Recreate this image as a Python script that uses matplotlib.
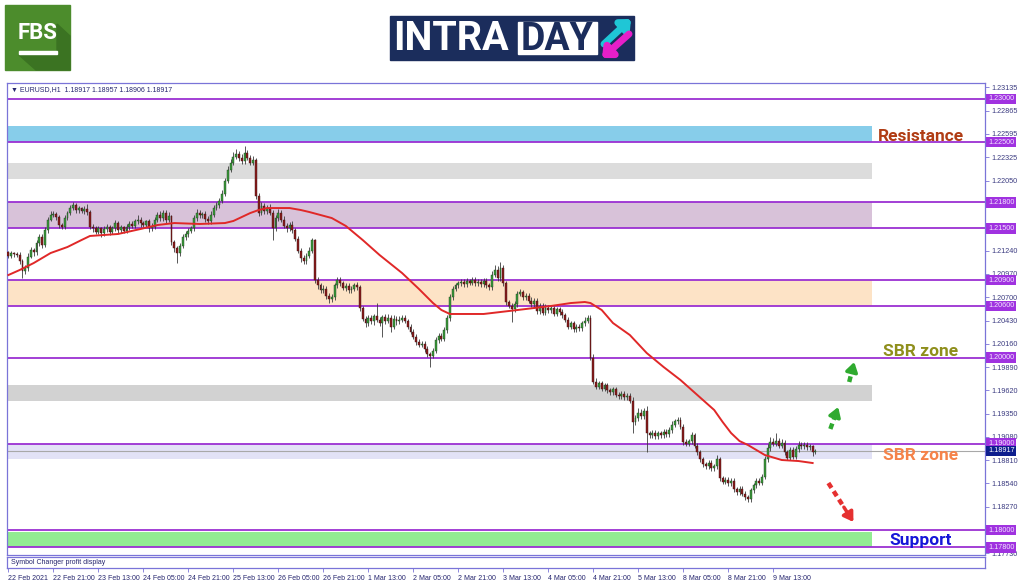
import numpy as np
import matplotlib
matplotlib.use("Agg")
import matplotlib.pyplot as plt
from matplotlib.patches import Rectangle, Polygon

# EURUSD H1 closes, one row per 16 bars (one x tick)
closes = [
    1.2118, 1.2121, 1.2120, 1.2119, 1.2112, 1.2100, 1.2104, 1.2117, 1.2125, 1.2122, 1.2133, 1.2140, 1.2131, 1.2148, 1.2160, 1.2166,
    1.2167, 1.2163, 1.2154, 1.2152, 1.2162, 1.2168, 1.2174, 1.2177, 1.2171, 1.2173, 1.2170, 1.2172, 1.2169, 1.2152, 1.2150, 1.2146,
    1.2150, 1.2144, 1.2149, 1.2152, 1.2146, 1.2150, 1.2156, 1.2148, 1.2151, 1.2147, 1.2152, 1.2155, 1.2153, 1.2158, 1.2160, 1.2156,
    1.2154, 1.2158, 1.2150, 1.2152, 1.2160, 1.2166, 1.2162, 1.2168, 1.2160, 1.2164, 1.2134, 1.2127, 1.2121, 1.2130, 1.2140, 1.2143,
    1.2147, 1.2150, 1.2162, 1.2168, 1.2165, 1.2167, 1.2161, 1.2158, 1.2166, 1.2174, 1.2177, 1.2182, 1.2190, 1.2205, 1.2218, 1.2226,
    1.2233, 1.2236, 1.2231, 1.2228, 1.2237, 1.2232, 1.2226, 1.2229, 1.2188, 1.2168, 1.2176, 1.2170, 1.2173, 1.2168, 1.2150, 1.2162, 1.2168,
    1.2160, 1.2153, 1.2150, 1.2154, 1.2148, 1.2138, 1.2124, 1.2115, 1.2112, 1.2118, 1.2124, 1.2136, 1.2090, 1.2084, 1.2078, 1.2080,
    1.2072, 1.2068, 1.2070, 1.2084, 1.2090, 1.2086, 1.2081, 1.2083, 1.2078, 1.2080, 1.2084, 1.2082, 1.2058, 1.2045, 1.2040, 1.2046,
    1.2042, 1.2048, 1.2044, 1.2040, 1.2047, 1.2043, 1.2046, 1.2036, 1.2045, 1.2042, 1.2044, 1.2046, 1.2043, 1.2036, 1.2030, 1.2024,
    1.2018, 1.2015, 1.2016, 1.2010, 1.2004, 1.2002, 1.2008, 1.2020, 1.2025, 1.2022, 1.2032, 1.2046, 1.2070, 1.2080, 1.2084, 1.2086,
    1.2088, 1.2085, 1.2089, 1.2087, 1.2090, 1.2086, 1.2088, 1.2085, 1.2089, 1.2084, 1.2082, 1.2096, 1.2102, 1.2092, 1.2104, 1.2086,
    1.2064, 1.2060, 1.2056, 1.2062, 1.2074, 1.2076, 1.2070, 1.2072, 1.2066, 1.2062, 1.2066, 1.2054, 1.2060, 1.2052, 1.2058, 1.2055,
    1.2057, 1.2051, 1.2056, 1.2053, 1.2049, 1.2044, 1.2036, 1.2040, 1.2033, 1.2036, 1.2034, 1.2040, 1.2043, 1.2046, 1.2000, 1.1972,
    1.1966, 1.1970, 1.1964, 1.1968, 1.1962, 1.1960, 1.1963, 1.1957, 1.1955, 1.1958, 1.1954, 1.1956, 1.1950, 1.1925, 1.1930, 1.1936,
    1.1932, 1.1938, 1.1912, 1.1910, 1.1913, 1.1909, 1.1912, 1.1910, 1.1914, 1.1911, 1.1916, 1.1922, 1.1926, 1.1928, 1.1920, 1.1902,
    1.1900, 1.1903, 1.1910, 1.1898, 1.1890, 1.1882, 1.1876, 1.1874, 1.1878, 1.1872, 1.1874, 1.1882, 1.1860, 1.1856, 1.1858, 1.1854,
    1.1857, 1.1847, 1.1844, 1.1848, 1.1842, 1.1838, 1.1836, 1.1846, 1.1852, 1.1857, 1.1855, 1.1862, 1.1882, 1.1895, 1.1902, 1.1900,
    1.1903, 1.1898, 1.1901, 1.1890, 1.1884, 1.1893, 1.1885, 1.1894, 1.1899, 1.1897, 1.1899, 1.1896, 1.1897, 1.1890, 1.18917,
]
first_open = 1.2122

# wick lengths beyond the body, in pips
upper_wick = [
    2, 3, 2, 2, 3, 2, 3, 4, 3, 2, 4, 3, 3, 4, 3, 4,
    3, 2, 3, 2, 3, 2, 3, 4, 2, 3, 2, 4, 6, 2, 3, 3,
    3, 2, 4, 3, 2, 3, 4, 2, 3, 2, 3, 3, 4, 3, 5, 3,
    3, 2, 3, 4, 3, 3, 4, 3, 3, 5, 2, 2, 2, 3, 3, 4,
    3, 3, 3, 4, 3, 2, 3, 3, 4, 3, 3, 3, 4, 3, 4, 4,
    5, 6, 4, 5, 8, 4, 3, 5, 2, 3, 4, 3, 4, 5, 3, 3, 4,
    3, 4, 3, 3, 4, 2, 3, 3, 4, 3, 4, 3, 2, 3, 3, 4,
    3, 3, 4, 3, 4, 3, 3, 3, 4, 3, 3, 4, 2, 2, 3, 4,
    4, 3, 15, 3, 3, 4, 5, 3, 5, 3, 4, 3, 3, 2, 3, 3,
    3, 3, 3, 3, 3, 2, 3, 4, 3, 4, 3, 3, 4, 3, 3, 3,
    3, 3, 3, 2, 3, 3, 3, 3, 3, 3, 3, 5, 6, 4, 7, 3,
    3, 3, 3, 4, 3, 4, 3, 3, 3, 4, 3, 3, 3, 3, 4, 3,
    3, 3, 3, 3, 3, 3, 3, 3, 3, 3, 3, 3, 4, 4, 3, 4,
    4, 3, 3, 3, 3, 3, 3, 3, 3, 3, 3, 3, 3, 4, 3, 6,
    4, 4, 6, 3, 3, 3, 3, 3, 3, 3, 3, 4, 3, 3, 3, 3,
    3, 3, 4, 3, 3, 3, 3, 3, 3, 3, 3, 5, 3, 3, 3, 3,
    3, 3, 3, 3, 3, 3, 3, 3, 3, 3, 3, 3, 4, 5, 6, 5,
    10, 4, 5, 3, 3, 3, 3, 3, 4, 3, 3, 3, 3, 2, 2,
]
lower_wick = [
    3, 2, 3, 2, 3, 8, 3, 3, 2, 4, 3, 3, 4, 3, 3, 2,
    3, 3, 4, 3, 3, 2, 3, 3, 3, 3, 2, 3, 3, 3, 4, 3,
    3, 4, 3, 3, 4, 3, 3, 4, 3, 3, 3, 4, 3, 3, 3, 4,
    3, 3, 4, 3, 3, 3, 3, 3, 4, 3, 3, 4, 11, 3, 3, 3,
    3, 3, 3, 3, 3, 3, 4, 3, 3, 3, 3, 3, 3, 3, 3, 3,
    3, 3, 3, 3, 3, 3, 3, 3, 4, 4, 3, 3, 3, 3, 14, 3, 3,
    3, 3, 4, 3, 3, 3, 3, 4, 3, 3, 3, 3, 3, 4, 3, 3,
    4, 5, 3, 3, 3, 3, 3, 4, 3, 3, 3, 3, 4, 3, 4, 3,
    3, 4, 3, 3, 16, 4, 3, 6, 3, 4, 3, 3, 3, 3, 3, 3,
    3, 3, 3, 3, 3, 13, 3, 3, 3, 3, 3, 3, 3, 3, 3, 3,
    3, 3, 3, 3, 3, 3, 3, 3, 3, 3, 3, 3, 3, 3, 3, 3,
    3, 3, 15, 3, 3, 3, 3, 3, 3, 3, 4, 3, 3, 3, 3, 3,
    3, 3, 3, 3, 3, 3, 3, 3, 3, 3, 3, 3, 3, 3, 3, 3,
    3, 3, 3, 3, 3, 3, 3, 3, 3, 3, 3, 3, 3, 12, 3, 3,
    3, 3, 22, 3, 3, 3, 3, 3, 3, 3, 3, 3, 3, 3, 3, 3,
    3, 3, 3, 3, 3, 3, 3, 3, 3, 3, 3, 3, 3, 3, 3, 3,
    3, 3, 3, 3, 3, 3, 3, 3, 3, 3, 3, 3, 3, 3, 3, 3,
    3, 3, 3, 3, 3, 3, 3, 3, 3, 3, 3, 3, 3, 4, 2,
]

# red moving average, read at a few bars
ma_bars = [0, 4, 9, 15, 21, 26, 29, 39, 47, 53, 59, 68, 77, 80, 83, 86, 89, 92, 96, 100,
           104, 107, 111, 115, 120, 126, 132, 140, 146, 151, 154, 157, 169, 181, 193, 200,
           205, 207, 211, 215, 221, 227, 233, 239, 245, 251, 254, 257, 260, 263, 269, 275,
           281, 286]
ma_values = [1.20958, 1.21016, 1.21097, 1.21213, 1.21283, 1.21364, 1.21411, 1.21434, 1.21492,
             1.21538, 1.21561, 1.21550, 1.21561, 1.21585, 1.21631, 1.21677, 1.21712, 1.21735,
             1.21735, 1.21735, 1.21712, 1.21689, 1.21654, 1.21619, 1.21527, 1.21364, 1.21190,
             1.20981, 1.20796, 1.20633, 1.20552, 1.20506, 1.20506, 1.20552, 1.20599, 1.20633,
             1.20645, 1.20633, 1.20552, 1.20401, 1.20262, 1.20053, 1.19891, 1.19740, 1.19566,
             1.19392, 1.19253, 1.19125, 1.19032, 1.18986, 1.18870, 1.18812, 1.18800, 1.18777]

level_lines = [1.2300, 1.2250, 1.2180, 1.2150, 1.2090, 1.2060, 1.2000, 1.1900, 1.1800, 1.1780]
zone_low = [1.2250, 1.2207, 1.2150, 1.2060, 1.1950, 1.1882, 1.1780]
zone_high = [1.2269, 1.2226, 1.2180, 1.2090, 1.1968, 1.1900, 1.1798]
zone_colors = ["#87cdea", "#dcdcdc", "#d8c2d9", "#fde3c6", "#d2d2d2", "#e2e2f6", "#92ec92"]

zone_texts = ["Resistance", "SBR zone", "SBR zone", "Support"]
zone_text_prices = [1.22570, 1.20070, 1.18860, 1.17880]
zone_text_colors = ["#b03c14", "#8f8f1c", "#f5834a", "#1616d8"]

price_ticks = [1.23135, 1.22865, 1.22595, 1.22325, 1.22050, 1.21780, 1.21510, 1.21240, 1.20970,
               1.20700, 1.20430, 1.20160, 1.19890, 1.19620, 1.19350, 1.19080, 1.18810, 1.18540,
               1.18270, 1.18000, 1.17730]
# these ones sit under the level labels, only their tick marks show
covered_ticks = [1.21780, 1.21510, 1.18000]
current_price = 1.18917

x_tick_bars = [0, 16, 32, 48, 64, 80, 96, 112, 128, 144, 160, 176, 192, 208, 224, 240, 256, 272]
x_tick_labels = ["22 Feb 2021", "22 Feb 21:00", "23 Feb 13:00", "24 Feb 05:00", "24 Feb 21:00",
                 "25 Feb 13:00", "26 Feb 05:00", "26 Feb 21:00", "1 Mar 13:00", "2 Mar 05:00",
                 "2 Mar 21:00", "3 Mar 13:00", "4 Mar 05:00", "4 Mar 21:00", "5 Mar 13:00",
                 "8 Mar 05:00", "8 Mar 21:00", "9 Mar 13:00"]

# dashed scenario arrows: (bar, price) start -> end
arrow_starts = [(292.3, 1.19172), (299.0, 1.19717), (291.6, 1.18545)]
arrow_ends = [(295.1, 1.19427), (300.8, 1.19949), (300.5, 1.18093)]
arrow_colors = ["#2faa2f", "#2faa2f", "#e53030"]

W, H = 1024, 587
FRAME = "#7a74d8"
TXT = "#25256e"
SMALL = "Liberation Sans"


def box(l, t, r, b):
    return [l / W, 1 - b / H, (r - l) / W, (b - t) / H]


fig = plt.figure(figsize=(W / 100, H / 100), dpi=100)
fig.patch.set_facecolor("white")

ax = fig.add_axes(box(7, 83, 985, 555))
sub = fig.add_axes(box(7, 557, 985, 568))

n = len(closes)
c = np.array(closes)
o = np.array([first_open] + closes[:-1])
hi = np.maximum(o, c) + np.array(upper_wick) * 1e-4
lo = np.minimum(o, c) - np.array(lower_wick) * 1e-4
idx = np.arange(n)
up = c >= o

zone_right = 0.8845
for z0, z1, zc in zip(zone_low, zone_high, zone_colors):
    ax.axhspan(z0, z1, xmin=0, xmax=zone_right, color=zc, lw=0, zorder=1)
for lv in level_lines:
    ax.axhline(lv, color="#9b30d2", lw=1.3, zorder=2)
ax.axhline(current_price, color="#a8a8a8", lw=0.8, zorder=2)

ax.vlines(idx, lo, hi, color="#3c3c3c", lw=0.6, zorder=3)
body = np.maximum(np.abs(c - o), 0.00004)
ax.bar(idx[up], body[up], bottom=np.minimum(o, c)[up], width=0.68,
       color="#3a9a3a", edgecolor="#1f3f1f", lw=0.3, zorder=4)
ax.bar(idx[~up], body[~up], bottom=np.minimum(o, c)[~up], width=0.68,
       color="#8a1c1c", edgecolor="#3a1010", lw=0.3, zorder=4)

ax.plot(ma_bars, ma_values, color="#e02828", lw=1.4, zorder=5)

for (x0, y0), (x1, y1), col in zip(arrow_starts, arrow_ends, arrow_colors):
    xm = x0 + (x1 - x0) * 0.62
    ym = y0 + (y1 - y0) * 0.62
    ax.plot([x0, xm], [y0, ym], color=col, lw=3.2, ls=(0, (1.3, 0.9)),
            solid_capstyle="butt", zorder=6)
    ax.annotate("", xy=(x1, y1), xytext=(xm, ym), zorder=6,
                arrowprops=dict(arrowstyle="-|>,head_length=0.55,head_width=0.35",
                                color=col, lw=2.5, shrinkA=0, shrinkB=0))

for t, p, col in zip(zone_texts, zone_text_prices, zone_text_colors):
    ax.text(0.9345, p, t, transform=ax.get_yaxis_transform(), ha="center", va="center",
            fontsize=12.5, fontweight="bold", family="Roboto", color=col, zorder=7)

ax.text(0.004, 0.987, "\u25bc EURUSD,H1  1.18917 1.18957 1.18906 1.18917", transform=ax.transAxes,
        fontsize=5, color=TXT, va="center", ha="left", family=[SMALL, "DejaVu Sans"])

ax.set_xlim(-0.5, 347.3)
ax.set_ylim(1.17710, 1.231856)
ax.set_xticks([])
ax.yaxis.tick_right()
ax.set_yticks(price_ticks)
ax.set_yticklabels(["" if v in covered_ticks else f"{v:.5f}" for v in price_ticks],
                   family=SMALL)
ax.tick_params(axis="y", direction="out", length=3, width=0.6, color=FRAME,
               labelsize=5.2, labelcolor="#3a3a80", pad=1.8)
for s in ax.spines.values():
    s.set_color(FRAME)
    s.set_linewidth(0.9)

for lv in level_lines:
    ax.text(1.003, lv, f"{lv:.5f}", transform=ax.get_yaxis_transform(), fontsize=5.2,
            family=SMALL, color="#f3e6ff", va="center", ha="left", clip_on=False, zorder=8,
            bbox=dict(boxstyle="square,pad=0.25", fc="#a032e0", ec="none"))
ax.text(1.003, current_price, f"{current_price:.5f}", transform=ax.get_yaxis_transform(),
        fontsize=5.2, family=SMALL, color="white", va="center", ha="left", clip_on=False,
        zorder=8, bbox=dict(boxstyle="square,pad=0.25", fc="#0e1e8e", ec="none"))

sub.set_xlim(-0.5, 347.3)
sub.set_ylim(0, 1)
sub.set_yticks([])
sub.set_xticks(x_tick_bars)
sub.set_xticklabels(x_tick_labels, ha="left", fontsize=5, color=TXT, family=SMALL)
sub.tick_params(axis="x", direction="out", length=3, width=0.6, color=FRAME, pad=2)
for s in sub.spines.values():
    s.set_color(FRAME)
    s.set_linewidth(0.9)
sub.text(0.004, 0.5, "Symbol Changer profit display", transform=sub.transAxes,
         fontsize=5, color=TXT, va="center", ha="left", family=SMALL)

# logos, drawn in pixel coordinates
lg = fig.add_axes([0, 0, 1, 1])
lg.set_xlim(0, W)
lg.set_ylim(H, 0)
lg.axis("off")
lg.add_patch(Rectangle((5, 5), 65, 65, color="#4c8c2c"))
lg.add_patch(Polygon([(57, 24), (70, 36), (70, 70), (36, 70), (19, 55), (57, 55)],
                     closed=True, color="#3b7322"))
lg.text(37.5, 33, "FBS", ha="center", va="center", fontsize=16, fontweight="bold",
        family="Roboto", color="white")
lg.add_patch(Rectangle((19, 51), 38, 3, color="white"))

lg.add_patch(Rectangle((390, 16), 244, 44, color="#1b2d5c"))
lg.add_patch(Rectangle((518, 22), 79, 32, color="white"))
lg.text(393, 39, "INTRA", ha="left", va="center", fontsize=28.5, fontweight="bold",
        family="Roboto", color="white")
lg.text(557.5, 39, "DAY", ha="center", va="center", fontsize=27, fontweight="bold",
        family="Roboto", color="#1b2d5c")
lg.annotate("", xy=(631, 19), xytext=(604, 44),
            arrowprops=dict(arrowstyle="-|>,head_length=0.5,head_width=0.45",
                            color="#1fc6d6", lw=5, shrinkA=0, shrinkB=0))
lg.annotate("", xy=(602, 58), xytext=(629, 34),
            arrowprops=dict(arrowstyle="-|>,head_length=0.5,head_width=0.45",
                            color="#e61fc9", lw=5, shrinkA=0, shrinkB=0))

fig.savefig("out.png", dpi=100)
